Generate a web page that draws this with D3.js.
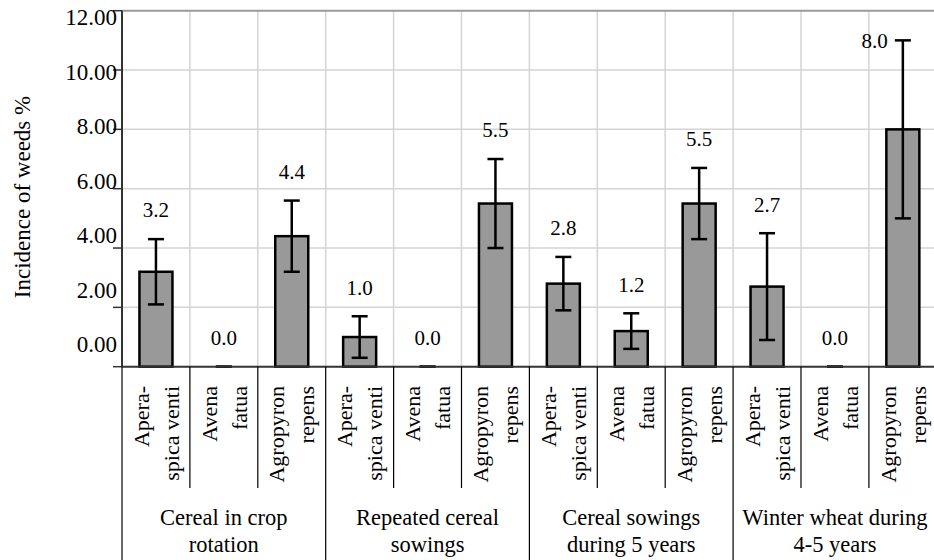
<!DOCTYPE html>
<html>
<head>
<meta charset="utf-8">
<script src="https://cdn.jsdelivr.net/npm/d3@7"></script>
<style>
  html, body { margin: 0; padding: 0; background: #fff; }
  svg { display: block; }
  svg text { font-family: 'Liberation Serif' !important; }
</style>
</head>
<body>
<div id="chart"></div>
<script>
// ---- data ----
const groups = [
  ["Cereal in crop", "rotation"],
  ["Repeated cereal", "sowings"],
  ["Cereal sowings", "during 5 years"],
  ["Winter wheat during", "4-5 years"]
];
const species = [
  ["Apera-", "spica venti"],
  ["Avena", "fatua"],
  ["Agropyron", "repens"]
];
const means  = [3.2, 0.0, 4.4,  1.0, 0.0, 5.5,  2.8, 1.2, 5.5,  2.7, 0.0, 8.0];
const errors = [1.1, 0.0, 1.2,  0.7, 0.0, 1.5,  0.9, 0.6, 1.2,  1.8, 0.0, 3.0];
const yTicks = [0, 2, 4, 6, 8, 10, 12];
const yTitle = "Incidence of weeds %";

// ---- layout ----
const FONT = "'Liberation Serif'";
const W = 934, H = 560;
const left = 122, catW = 67.9, right = left + catW * means.length;
const yTop = 10.7, yBot = 366.7;

const rows = means.map((m, i) => ({
  i, m, e: errors[i],
  g: Math.floor(i / species.length),
  s: species[i % species.length]
}));

const svg = d3.select("#chart").append("svg").attr("width", W).attr("height", H);

const x = d3.scaleBand().domain(rows.map(d => d.i)).range([left, right]).padding(0);
const y = d3.scaleLinear().domain([0, 12]).range([yBot, yTop]);
// tick labels in the source are laid out slightly compressed relative to the ticks
const yLab = d3.scaleLinear().domain([0, 12]).range([344, 17]);

function txt(sel, size) {
  return sel.attr("font-family", FONT).attr("font-size", size)
    .attr("style", `font-family:'Liberation Serif';font-size:${size}px`);
}

// horizontal gridlines
svg.append("g").selectAll("line").data(yTicks.filter(t => t > 0 && t < 12)).join("line")
  .attr("x1", left).attr("x2", right)
  .attr("y1", d => y(d)).attr("y2", d => y(d))
  .attr("stroke", "#d4d4d4").attr("stroke-width", 1.5);

// vertical gridlines at category boundaries
svg.append("g").selectAll("line").data(rows.slice(1)).join("line")
  .attr("x1", d => x(d.i)).attr("x2", d => x(d.i))
  .attr("y1", yTop).attr("y2", yBot)
  .attr("stroke", "#d4d4d4").attr("stroke-width", 1.5);

// top border
svg.append("line").attr("x1", left).attr("x2", right).attr("y1", y(12)).attr("y2", y(12))
  .attr("stroke", "#9a9a9a").attr("stroke-width", 2);

// y axis ticks
svg.append("g").selectAll("line").data(yTicks).join("line")
  .attr("x1", left - 9).attr("x2", left).attr("y1", d => y(d)).attr("y2", d => y(d))
  .attr("stroke", "#333").attr("stroke-width", 1.5);
svg.append("line").attr("x1", left).attr("x2", left).attr("y1", yTop).attr("y2", yBot)
  .attr("stroke", "#333").attr("stroke-width", 2);

// y tick labels
txt(svg.append("g").selectAll("text").data(yTicks).join("text"), 23)
  .attr("x", left - 5).attr("y", d => yLab(d)).attr("dy", "0.35em")
  .attr("text-anchor", "end").attr("fill", "#000")
  .text(d => d.toFixed(2));

// y title
txt(svg.append("text"), 23)
  .attr("transform", `translate(22,197) rotate(-90)`)
  .attr("text-anchor", "middle").attr("dy", "0.35em")
  .text(yTitle);

// bars
svg.append("g").selectAll("rect").data(rows.filter(d => d.m > 0)).join("rect")
  .attr("x", d => x(d.i) + (x.bandwidth() - 33) / 2)
  .attr("width", 33)
  .attr("y", d => y(d.m))
  .attr("height", d => y(0) - y(d.m))
  .attr("fill", "#999999").attr("stroke", "#000").attr("stroke-width", 2.5);

// error bars
const eb = svg.append("g").selectAll("g").data(rows).join("g")
  .attr("transform", d => `translate(${x(d.i) + x.bandwidth() / 2},0)`);
eb.append("line").attr("x1", 0).attr("x2", 0)
  .attr("y1", d => y(d.m - d.e)).attr("y2", d => y(d.m + d.e))
  .attr("stroke", "#000").attr("stroke-width", 2.5);
eb.append("line").attr("x1", -8).attr("x2", 8)
  .attr("y1", d => y(d.m + d.e)).attr("y2", d => y(d.m + d.e))
  .attr("stroke", "#000").attr("stroke-width", 2.5);
eb.append("line").attr("x1", -8).attr("x2", 8)
  .attr("y1", d => y(d.m - d.e)).attr("y2", d => y(d.m - d.e))
  .attr("stroke", "#000").attr("stroke-width", 2.5);

// value labels
txt(svg.append("g").selectAll("text").data(rows).join("text"), 21)
  .attr("dy", "0.35em")
  .each(function (d) {
    const cx = x(d.i) + x.bandwidth() / 2;
    const yt = y(d.m + d.e) - 29;
    const t = d3.select(this);
    if (yt < yTop + 14) {
      t.attr("x", cx - 15).attr("y", y(d.m + d.e)).attr("text-anchor", "end");
    } else {
      t.attr("x", cx).attr("y", yt).attr("text-anchor", "middle");
    }
    t.text(d.m.toFixed(1));
  });

// x axis line
svg.append("line").attr("x1", left).attr("x2", right).attr("y1", yBot).attr("y2", yBot)
  .attr("stroke", "#333").attr("stroke-width", 2);

// category separators below axis
svg.append("g").selectAll("line").data(d3.range(means.length + 1)).join("line")
  .attr("x1", i => left + i * x.step()).attr("x2", i => left + i * x.step())
  .attr("y1", yBot)
  .attr("y2", i => (i % species.length === 0) ? H : 488)
  .attr("stroke", "#000").attr("stroke-width", 1.2);

// species labels (rotated, two lines)
const sl = svg.append("g").selectAll("g").data(rows).join("g")
  .attr("transform", d => `translate(${x(d.i) + x.bandwidth() / 2},386)`);
txt(sl.selectAll("text").data(d => d.s.map((line, k) => ({ line, k }))).join("text"), 22)
  .attr("transform", d => `translate(${d.k === 0 ? -15 : 15},0) rotate(-90)`)
  .attr("text-anchor", "end").attr("dy", "0.35em")
  .text(d => d.line);

// group labels
const gl = txt(svg.append("g").selectAll("text").data(groups).join("text"), 22.5)
  .attr("text-anchor", "middle");
gl.each(function (lines, gi) {
  const cx = left + (gi * species.length + species.length / 2) * x.step();
  d3.select(this).selectAll("tspan").data(lines).join("tspan")
    .attr("x", cx).attr("y", (d, k) => 525 + k * 27).text(d => d);
});
</script>
</body>
</html>
